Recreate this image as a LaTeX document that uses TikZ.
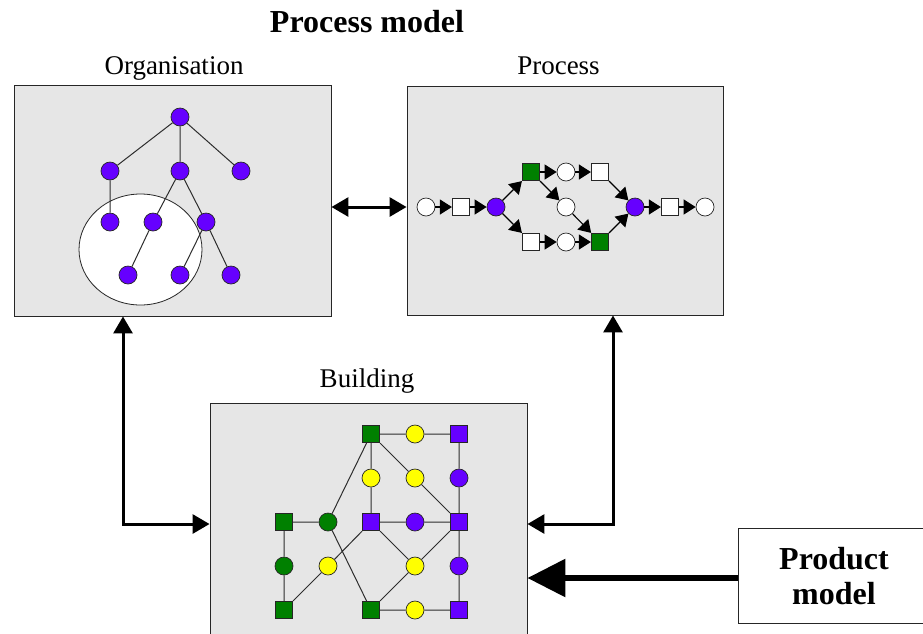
\documentclass[tikz,border=0pt]{standalone}
\usepackage{fontspec}
\setmainfont{Liberation Serif}
\usetikzlibrary{arrows.meta}

\definecolor{violetnode}{RGB}{102,0,255}
\definecolor{greennode}{RGB}{0,128,0}
\definecolor{yellownode}{RGB}{255,255,0}
\definecolor{panelgray}{RGB}{230,230,230}
\definecolor{edgegray}{RGB}{45,45,45}

\begin{document}
\begin{tikzpicture}[x=1pt,y=-1pt,
  panel/.style={draw=black!85, fill=panelgray, line width=0.9pt, inner sep=0pt},
  caption/.style={font=\fontsize{27}{30}\selectfont, anchor=base, inner sep=0pt},
  dot/.style={circle, draw=black!85, line width=0.7pt, minimum size=18pt, inner sep=0pt},
  box/.style={rectangle, draw=black!85, line width=0.7pt, minimum size=17.5pt, inner sep=0pt},
  vdot/.style={dot, fill=violetnode},
  gdot/.style={dot, fill=greennode},
  ydot/.style={dot, fill=yellownode},
  wdot/.style={dot, fill=white},
  vbox/.style={box, fill=violetnode},
  gbox/.style={box, fill=greennode},
  wbox/.style={box, fill=white},
  link/.style={draw=edgegray, line width=1pt},
  flow/.style={draw=black, line width=1.1pt, -{Triangle[length=12pt,width=15pt]}},
  couple/.style={draw=black, line width=3pt, {Triangle[length=17pt,width=19pt]}-{Triangle[length=17pt,width=19pt]}},
  feed/.style={draw=black, line width=6pt, -{Triangle[length=38pt,width=37pt]}}
]
\useasboundingbox (0,0) rectangle (923,633);

% ---------- headings ----------
\node[font=\bfseries\fontsize{32}{36}\selectfont, anchor=base, inner sep=0pt] (title) at (367,32) {Process model};
\node[caption] (orgcap) at (174,74) {Organisation};
\node[caption] (proccap) at (558.5,74) {Process};
\node[caption] (bldcap) at (367,387) {Building};

% ---------- panels ----------
\node[panel, minimum width=317pt, minimum height=231pt] (org) at (172.5,200.5) {};
\node[panel, minimum width=316pt, minimum height=229pt] (proc) at (565,200.5) {};
\node[panel, minimum width=317pt, minimum height=260pt] (bld) at (368.5,533) {};
\node[panel, fill=white, minimum width=192pt, minimum height=95pt,
      font=\bfseries\fontsize{32}{35}\selectfont, align=center] (prod) at (834,576) {Product\\model};

% ---------- organisation tree ----------
\draw[draw=black!85, line width=0.8pt, fill=white] (140.5,249.5) ellipse [x radius=61.5, y radius=55.5];
\node[vdot] (o1) at (180,117) {};
\node[vdot] (o21) at (110,171) {};
\node[vdot] (o22) at (180,171) {};
\node[vdot] (o23) at (241,171) {};
\node[vdot] (o31) at (110,222) {};
\node[vdot] (o32) at (153,222) {};
\node[vdot] (o33) at (206,222) {};
\node[vdot] (o41) at (128,275) {};
\node[vdot] (o42) at (180,275) {};
\node[vdot] (o43) at (231,275) {};
\path[link] (o1) -- (o21) (o1) -- (o22) (o1) -- (o23)
  (o21) -- (o31) (o22) -- (o32) (o22) -- (o33)
  (o32) -- (o41) (o33) -- (o42) (o33) -- (o43);

% ---------- process net ----------
\node[wdot] (p1) at (426,207) {};
\node[wbox] (p2) at (461,207) {};
\node[vdot] (p3) at (496,207) {};
\node[gbox] (pa1) at (531,172) {};
\node[wdot] (pa2) at (566,172) {};
\node[wbox] (pa3) at (600,172) {};
\node[wdot] (pm) at (566,207) {};
\node[wbox] (pb1) at (531,242) {};
\node[wdot] (pb2) at (566,242) {};
\node[gbox] (pb3) at (600,242) {};
\node[vdot] (p4) at (635,207) {};
\node[wbox] (p5) at (670,207) {};
\node[wdot] (p6) at (705,207) {};
\draw[flow] (p1) -- (p2);
\draw[flow] (p2) -- (p3);
\draw[flow] (p3) -- (pa1);
\draw[flow] (p3) -- (pb1);
\draw[flow] (pa1) -- (pa2);
\draw[flow] (pa2) -- (pa3);
\draw[flow] (pa1) -- (pm);
\draw[flow] (pm) -- (pb3);
\draw[flow] (pb1) -- (pb2);
\draw[flow] (pb2) -- (pb3);
\draw[flow] (pa3) -- (p4);
\draw[flow] (pb3) -- (p4);
\draw[flow] (p4) -- (p5);
\draw[flow] (p5) -- (p6);

% ---------- building graph ----------
\node[gbox] (b13) at (371,434) {};
\node[ydot] (b14) at (415,434) {};
\node[vbox] (b15) at (459,434) {};
\node[ydot] (b23) at (371,478) {};
\node[ydot] (b24) at (415,478) {};
\node[vdot] (b25) at (459,478) {};
\node[gbox] (b31) at (284,522) {};
\node[gdot] (b32) at (328,522) {};
\node[vbox] (b33) at (371,522) {};
\node[vdot] (b34) at (415,522) {};
\node[vbox] (b35) at (459,522) {};
\node[gdot] (b41) at (284,566) {};
\node[ydot] (b42) at (328,566) {};
\node[ydot] (b44) at (415,566) {};
\node[vdot] (b45) at (459,566) {};
\node[gbox] (b51) at (284,610) {};
\node[gbox] (b53) at (371,610) {};
\node[ydot] (b54) at (415,610) {};
\node[vbox] (b55) at (459,610) {};
\path[link]
  (b13) -- (b14) (b14) -- (b15)
  (b13) -- (b23) (b23) -- (b33)
  (b13) -- (b24) (b24) -- (b35)
  (b13) -- (b32)
  (b15) -- (b25) (b25) -- (b35)
  (b31) -- (b32)
  (b33) -- (b34) (b34) -- (b35)
  (b31) -- (b41) (b41) -- (b51)
  (b51) -- (b42) (b42) -- (b33)
  (b32) -- (b53)
  (b33) -- (b44) (b44) -- (b35) (b44) -- (b53)
  (b35) -- (b45) (b45) -- (b55)
  (b53) -- (b54) (b54) -- (b55);

% ---------- connectors between panels ----------
\coordinate (orgport) at ([yshift=-6.5pt]org.east);
\draw[couple] (orgport) -- (orgport -| proc.west);
\coordinate (lbend) at (123,524);
\draw[couple] (lbend |- org.south) -- (lbend) -- (lbend -| bld.west);
\coordinate (rbend) at (613,524);
\draw[couple] (rbend |- proc.south) -- (rbend) -- (rbend -| bld.east);
\coordinate (prodport) at ([yshift=-2pt]prod.west);
\draw[feed] (prodport) -- (prodport -| bld.east);
\end{tikzpicture}
\end{document}
